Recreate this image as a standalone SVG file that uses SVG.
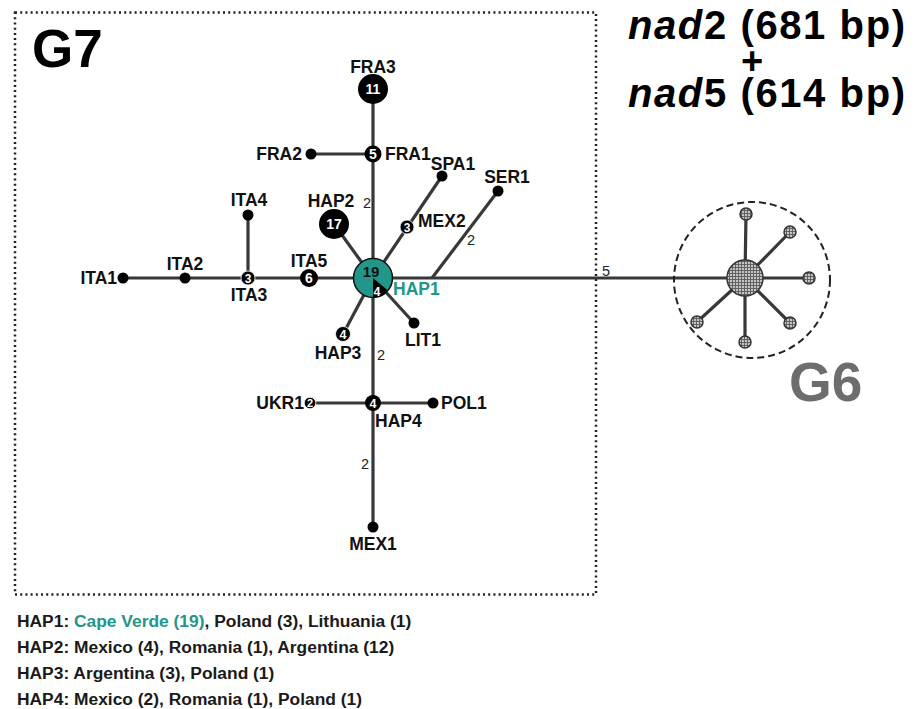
<svg xmlns="http://www.w3.org/2000/svg" width="922" height="709" viewBox="0 0 922 709">
<defs>
<pattern id="hatch" width="3" height="3" patternUnits="userSpaceOnUse">
<rect width="3" height="3" fill="#c4c4c4"/>
<path d="M0 0.5H3M0.5 0V3" stroke="#5a5a5a" stroke-width="0.9"/>
</pattern>
<style>
text{font-family:"Liberation Sans",Arial,sans-serif;font-weight:bold;}
.lbl{font-size:17.5px;fill:#111;}
.num{font-size:14px;fill:#fff;text-anchor:middle;}
.mut{font-size:14.5px;font-weight:normal;fill:#222;}
.edge{stroke:#383838;stroke-width:3.2;fill:none;}
.dot{fill:#000;}
.hn{fill:url(#hatch);stroke:#333;stroke-width:1.5;}
.leg{font-size:17.4px;fill:#1a1a1a;}
.mid{text-anchor:middle;}
.end{text-anchor:end;}
</style>
</defs>
<rect x="0" y="0" width="922" height="709" fill="#fff"/>
<rect x="15" y="12.5" width="581" height="582" fill="none" stroke="#222" stroke-width="2.5" stroke-dasharray="2 3.2"/>
<text x="32" y="67" style="font-size:53px" fill="#000">G7</text>
<text x="789" y="401" style="font-size:55px" fill="#6d6d6d">G6</text>
<g id="title">
<text x="628" y="38.5" style="font-size:40px" fill="#000" textLength="277" lengthAdjust="spacing"><tspan font-style="italic">nad</tspan>2 (681 bp)</text>
<text x="752" y="74" style="font-size:38px" fill="#000" text-anchor="middle">+</text>
<text x="628" y="106.5" style="font-size:40px" fill="#000" textLength="277" lengthAdjust="spacing"><tspan font-style="italic">nad</tspan>5 (614 bp)</text>
</g>
<g id="connectors">
<line class="edge" x1="123" y1="278" x2="745" y2="278"/>
<line class="edge" x1="373" y1="89" x2="373" y2="527"/>
<line class="edge" x1="311" y1="154" x2="373" y2="154"/>
<line class="edge" x1="248" y1="215" x2="248" y2="278"/>
<line class="edge" x1="310" y1="403" x2="433" y2="403"/>
<line class="edge" x1="373" y1="278" x2="442" y2="176"/>
<line class="edge" x1="373" y1="278" x2="334" y2="224"/>
<line class="edge" x1="373" y1="278" x2="343" y2="334"/>
<line class="edge" x1="373" y1="278" x2="414" y2="323"/>
<line class="edge" x1="432" y1="278" x2="498" y2="191"/>
<line class="edge" x1="745" y1="278" x2="746" y2="214"/>
<line class="edge" x1="745" y1="278" x2="790" y2="232"/>
<line class="edge" x1="745" y1="278" x2="809" y2="278"/>
<line class="edge" x1="745" y1="278" x2="790" y2="323"/>
<line class="edge" x1="745" y1="278" x2="745" y2="342"/>
<line class="edge" x1="745" y1="278" x2="697" y2="322"/>
<text class="mut" x="363" y="208">2</text>
<text class="mut" x="467" y="245">2</text>
<text class="mut" x="377" y="360">2</text>
<text class="mut" x="361" y="469">2</text>
<text class="mut" x="602" y="276">5</text>
</g>
<circle cx="752" cy="280" r="78" fill="none" stroke="#222" stroke-width="2" stroke-dasharray="7 4"/>
<g id="HAP1">
<circle cx="373" cy="278" r="19.5" fill="#229688" stroke="#111" stroke-width="1.5"/>
<path d="M373,278 L387.9,290.5 A19.5,19.5 0 0 1 373,297.5 Z" fill="#000"/>
<text x="371" y="277" style="font-size:15px" fill="#111" text-anchor="middle">19</text>
<text x="377" y="296" style="font-size:12.5px" fill="#fff" text-anchor="middle">4</text>
<text x="393" y="295" class="lbl" style="fill:#229688">HAP1</text>
</g>
<g id="FRA3"><circle cx="373" cy="89" r="15" class="dot"/><text class="num" x="373" y="94">11</text><text class="lbl mid" x="373" y="73">FRA3</text></g>
<g id="FRA1"><circle cx="373" cy="154" r="8.5" class="dot"/><text class="num" x="373" y="159">5</text><text class="lbl" x="385" y="160">FRA1</text></g>
<g id="FRA2"><circle cx="311" cy="154" r="5.5" class="dot"/><text class="lbl end" x="302" y="160">FRA2</text></g>
<g id="SPA1"><circle cx="442" cy="176" r="5.5" class="dot"/><text class="lbl mid" x="453" y="170">SPA1</text></g>
<g id="MEX2"><circle cx="407" cy="227" r="7" class="dot" stroke="#fff" stroke-width="0.8"/><text class="num" x="407" y="231.5" style="font-size:12px">3</text><text class="lbl" x="418" y="227">MEX2</text></g>
<g id="SER1"><circle cx="498" cy="191" r="5.5" class="dot"/><text class="lbl mid" x="507" y="183">SER1</text></g>
<g id="HAP2"><circle cx="334" cy="224" r="15" class="dot"/><text class="num" x="334" y="229">17</text><text class="lbl mid" x="331" y="207">HAP2</text></g>
<g id="ITA4"><circle cx="248" cy="215" r="5.5" class="dot"/><text class="lbl mid" x="249" y="206">ITA4</text></g>
<g id="ITA3"><circle cx="248" cy="278" r="7" class="dot" stroke="#fff" stroke-width="0.8"/><text class="num" x="248" y="282.5" style="font-size:12px">3</text><text class="lbl mid" x="249" y="301">ITA3</text></g>
<g id="ITA2"><circle cx="185" cy="278" r="5.5" class="dot"/><text class="lbl mid" x="185" y="270">ITA2</text></g>
<g id="ITA1"><circle cx="123" cy="278" r="5.5" class="dot"/><text class="lbl end" x="117" y="284">ITA1</text></g>
<g id="ITA5"><circle cx="309" cy="278" r="9" class="dot"/><text class="num" x="309" y="283">6</text><text class="lbl mid" x="309" y="267">ITA5</text></g>
<g id="HAP3"><circle cx="343" cy="334" r="7.5" class="dot" stroke="#fff" stroke-width="0.8"/><text class="num" x="343" y="338.5" style="font-size:12.5px">4</text><text class="lbl mid" x="338" y="359">HAP3</text></g>
<g id="LIT1"><circle cx="414" cy="323" r="5.5" class="dot"/><text class="lbl mid" x="423" y="346">LIT1</text></g>
<g id="HAP4"><circle cx="373" cy="403" r="8" class="dot"/><text class="num" x="373" y="407.5" style="font-size:12.5px">4</text><text class="lbl" x="375" y="427">HAP4</text></g>
<g id="UKR1"><circle cx="310" cy="403" r="5.8" class="dot" stroke="#fff" stroke-width="0.8"/><text class="num" x="310" y="407" style="font-size:11px">2</text><text class="lbl end" x="304" y="409">UKR1</text></g>
<g id="POL1"><circle cx="433" cy="403" r="5.5" class="dot"/><text class="lbl" x="441" y="409">POL1</text></g>
<g id="MEX1"><circle cx="373" cy="527" r="5.5" class="dot"/><text class="lbl mid" x="373" y="550">MEX1</text></g>
<g id="G6center"><circle cx="745" cy="278" r="18" class="hn"/></g>
<g id="G6a"><circle cx="746" cy="214" r="6" class="hn"/></g>
<g id="G6b"><circle cx="790" cy="232" r="6" class="hn"/></g>
<g id="G6c"><circle cx="809" cy="278" r="6" class="hn"/></g>
<g id="G6d"><circle cx="790" cy="323" r="6" class="hn"/></g>
<g id="G6e"><circle cx="745" cy="342" r="6" class="hn"/></g>
<g id="G6f"><circle cx="697" cy="322" r="6" class="hn"/></g>
<g id="legend">
<text class="leg" x="17" y="627">HAP1: <tspan fill="#229688">Cape Verde (19)</tspan>, Poland (3), Lithuania (1)</text>
<text class="leg" x="17" y="653">HAP2: Mexico (4), Romania (1), Argentina (12)</text>
<text class="leg" x="17" y="679">HAP3: Argentina (3), Poland (1)</text>
<text class="leg" x="17" y="705">HAP4: Mexico (2), Romania (1), Poland (1)</text>
</g>
</svg>
